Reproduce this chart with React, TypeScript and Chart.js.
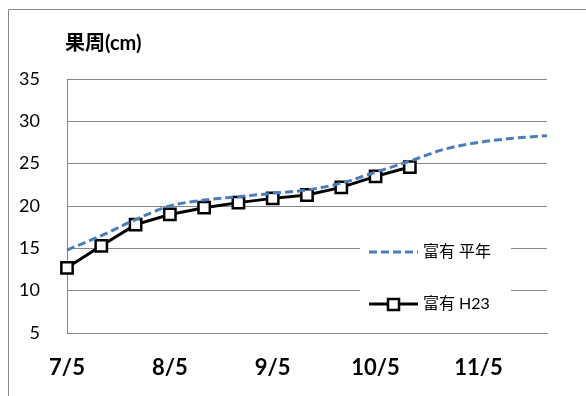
import { useEffect, useRef } from "react";
import { Chart, registerables } from "chart.js";

Chart.register(...registerables);

// Ten-day sampling dates from early July to late November
const dates = ["7/5", "7/15", "7/25", "8/5", "8/15", "8/25", "9/5", "9/15", "9/25", "10/5", "10/15", "10/25", "11/5", "11/15", "11/25"];
const labelledDates = ["7/5", "8/5", "9/5", "10/5", "11/5"];

// Fruit circumference (cm)
const normalYear = [14.8, 16.5, 18.4, 20.0, 20.7, 21.1, 21.5, 21.9, 22.7, 24.0, 25.3, 26.7, 27.5, 28.0, 28.3];
const seasonH23 = [12.7, 15.3, 17.8, 19.0, 19.8, 20.4, 20.9, 21.3, 22.2, 23.5, 24.6];

const seriesNames = ["富有 平年", "富有 H23"];
const yTitle = "果周(cm)";
const yMin = 5;
const yMax = 35;
const yStep = 5;

const FONT = "Lato, 'Noto Sans CJK JP', sans-serif";
const GRID = "#868686";
const BLUE = "#4a7ebb";

const decor = {
  id: "decor",
  beforeDraw(chart: any) {
    const ctx = chart.ctx;
    ctx.save();
    ctx.fillStyle = "#ffffff";
    ctx.fillRect(0, 0, chart.width, chart.height);
    ctx.strokeStyle = GRID;
    ctx.lineWidth = 1;
    ctx.beginPath();
    ctx.moveTo(8.5, chart.height);
    ctx.lineTo(8.5, 9.5);
    ctx.lineTo(chart.width, 9.5);
    ctx.stroke();
    ctx.fillStyle = "#000000";
    ctx.font = `bold 20px ${FONT}`;
    ctx.textBaseline = "middle";
    ctx.textAlign = "left";
    ctx.fillText(yTitle, 65, 44);
    ctx.restore();
  },
  afterDraw(chart: any) {
    const ctx = chart.ctx;
    ctx.save();
    ctx.fillStyle = "#ffffff";
    ctx.fillRect(360, 226, 151, 98);
    const rows = [252, 304];
    chart.data.datasets.forEach((ds: any, i: number) => {
      const y = rows[i];
      ctx.strokeStyle = ds.borderColor;
      ctx.lineWidth = ds.borderWidth;
      ctx.setLineDash(ds.borderDash || []);
      ctx.beginPath();
      ctx.moveTo(369, y);
      ctx.lineTo(418, y);
      ctx.stroke();
      ctx.setLineDash([]);
      if (ds.pointRadius > 0) {
        ctx.fillStyle = "#ffffff";
        ctx.strokeStyle = ds.pointBorderColor;
        ctx.lineWidth = ds.pointBorderWidth;
        ctx.beginPath();
        ctx.rect(388, y - 5, 11, 11);
        ctx.fill();
        ctx.stroke();
      }
      ctx.fillStyle = "#000000";
      ctx.font = `16px ${FONT}`;
      ctx.textBaseline = "middle";
      ctx.textAlign = "left";
      ctx.fillText(ds.label, 423, y);
    });
    ctx.restore();
  },
};

export default function App() {
  const canvasRef = useRef<HTMLCanvasElement | null>(null);

  useEffect(() => {
    if (!canvasRef.current) return;
    const chart = new Chart(canvasRef.current, {
      type: "line",
      data: {
        labels: dates,
        datasets: [
          {
            label: seriesNames[0],
            data: normalYear,
            borderColor: BLUE,
            borderWidth: 3,
            borderDash: [8, 4],
            pointRadius: 0,
            pointHoverRadius: 0,
            tension: 0.4,
            cubicInterpolationMode: "monotone",
            fill: false,
          },
          {
            label: seriesNames[1],
            data: seasonH23,
            borderColor: "#000000",
            borderWidth: 3,
            pointStyle: "rect",
            pointRadius: 8,
            pointHoverRadius: 8,
            pointBorderWidth: 2.5,
            pointBorderColor: "#000000",
            pointBackgroundColor: "#ffffff",
            tension: 0,
            fill: false,
          },
        ],
      },
      options: {
        animation: false,
        responsive: false,
        maintainAspectRatio: false,
        events: [],
        layout: { padding: { left: 0, right: 39, top: 79, bottom: 0 } },
        plugins: {
          legend: { display: false },
          title: { display: false },
          tooltip: { enabled: false },
        },
        scales: {
          x: {
            offset: false,
            grid: { display: false, drawTicks: false },
            border: { display: true, color: GRID, width: 1 },
            ticks: {
              autoSkip: false,
              maxRotation: 0,
              minRotation: 0,
              padding: 22,
              color: "#000000",
              font: { family: FONT, size: 22, weight: "bold" },
              callback: (_v: any, i: number) => (labelledDates.includes(dates[i]) ? dates[i] : ""),
            },
            afterFit: (s: any) => {
              s.height = 63;
            },
          },
          y: {
            min: yMin,
            max: yMax,
            grid: { color: GRID, lineWidth: 1, drawTicks: false },
            border: { display: true, color: GRID, width: 1 },
            ticks: {
              stepSize: yStep,
              padding: 27,
              color: "#000000",
              font: { family: FONT, size: 18 },
            },
            afterFit: (s: any) => {
              s.width = 67;
            },
          },
        },
      },
      plugins: [decor],
    });
    return () => chart.destroy();
  }, []);

  return (
    <div style={{ position: "fixed", left: 0, top: 0, width: 586, height: 396, background: "#fff" }}>
      <canvas ref={canvasRef} width={586} height={396} style={{ display: "block", width: 586, height: 396 }} />
    </div>
  );
}
